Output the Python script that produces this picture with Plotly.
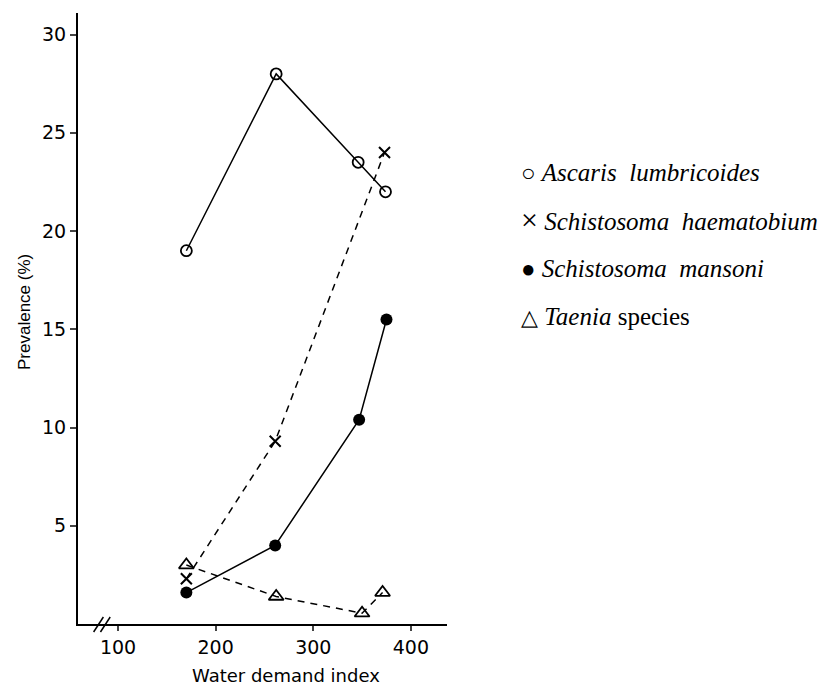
import plotly.graph_objects as go

# Data
asc_x = [170, 262, 346, 374]
asc_y = [19.0, 28.0, 23.5, 22.0]
hae_x = [170, 261, 373]
hae_y = [2.3, 9.3, 24.0]
man_x = [170, 261, 347, 375]
man_y = [1.6, 4.0, 10.4, 15.5]
tae_x = [170, 262, 350, 371]
tae_y = [3.0, 1.4, 0.55, 1.6]

legend_items = [
    ("○", "<i>Ascaris  lumbricoides</i>"),
    ("×", "<i>Schistosoma  haematobium</i>"),
    ("●", "<i>Schistosoma  mansoni</i>"),
    ("△", "<i>Taenia</i> species"),
]
x_ticks = [100, 200, 300, 400]
y_ticks = [5, 10, 15, 20, 25, 30]

fig = go.Figure()
common = dict(mode="lines+markers", cliponaxis=False, showlegend=False, hoverinfo="skip")
fig.add_trace(go.Scatter(x=asc_x, y=asc_y, line=dict(color="black", width=1.5),
                         marker=dict(symbol="circle-open", size=11, color="black", line=dict(width=1.8)), **common))
fig.add_trace(go.Scatter(x=hae_x, y=hae_y, line=dict(color="black", width=1.5, dash="7px,6px"),
                         marker=dict(symbol="x-thin-open", size=11, color="black", line=dict(width=2)), **common))
fig.add_trace(go.Scatter(x=man_x, y=man_y, line=dict(color="black", width=1.5),
                         marker=dict(symbol="circle", size=12, color="black"), **common))
fig.add_trace(go.Scatter(x=tae_x, y=tae_y, line=dict(color="black", width=1.5, dash="7px,6px"),
                         marker=dict(symbol="triangle-up-open", size=13, color="black", line=dict(width=1.8)), **common))

W, H = 826, 685
L, T = 78, 13
PW, PH = 369, 611
R, B = W - L - PW, H - T - PH

def px_x(p):
    return (p - L) / PW

def px_y(p):
    return (T + PH - p) / PH

annotations = []
rows = [172, 220, 268, 316]
sym_sizes = [24, 30, 24, 22]
for (sym, txt), ry, ss in zip(legend_items, rows, sym_sizes):
    annotations.append(dict(x=px_x(519), y=px_y(ry), xref="paper", yref="paper", xanchor="left",
                            yanchor="middle", showarrow=False,
                            text=f"<span style='font-size:{ss}px;font-style:normal'>{sym}</span> {txt}",
                            font=dict(family="Liberation Serif", size=25, color="black")))
annotations.append(dict(x=px_x(24), y=px_y(312), xref="paper", yref="paper", textangle=-90,
                        xanchor="center", yanchor="middle",
                        showarrow=False, text="Prevalence (%)",
                        font=dict(family="Liberation Sans", size=17, color="black")))
annotations.append(dict(x=px_x(286), y=px_y(676), xref="paper", yref="paper",
                        xanchor="center", yanchor="middle",
                        showarrow=False, text="Water demand index",
                        font=dict(family="DejaVu Sans", size=18, color="black")))

shapes = []
for x0, x1 in [(75, 85), (82, 92)]:
    shapes.append(dict(type="line", xref="x", yref="paper", x0=x0, x1=x1,
                       y0=px_y(632), y1=px_y(617), line=dict(color="black", width=1.5)))

fig.update_layout(
    width=W, height=H,
    margin=dict(l=L, r=R, t=T, b=B),
    plot_bgcolor="white", paper_bgcolor="white",
    annotations=annotations, shapes=shapes,
    xaxis=dict(range=[59, 437], tickvals=x_ticks, ticks="outside", ticklen=5, tickwidth=1.5,
               showline=True, linecolor="black", linewidth=2, showgrid=False, zeroline=False,
               tickfont=dict(family="DejaVu Sans", size=19, color="black")),
    yaxis=dict(range=[0, 31.1], tickvals=y_ticks, ticks="outside", ticklen=6, tickwidth=1.5,
               showline=True, linecolor="black", linewidth=2, showgrid=False, zeroline=False,
               tickfont=dict(family="DejaVu Sans", size=19, color="black")),
)
fig.write_html("out.html", config={"displayModeBar": False},
               post_script="document.body.style.margin='0';document.body.style.overflow='hidden';")
